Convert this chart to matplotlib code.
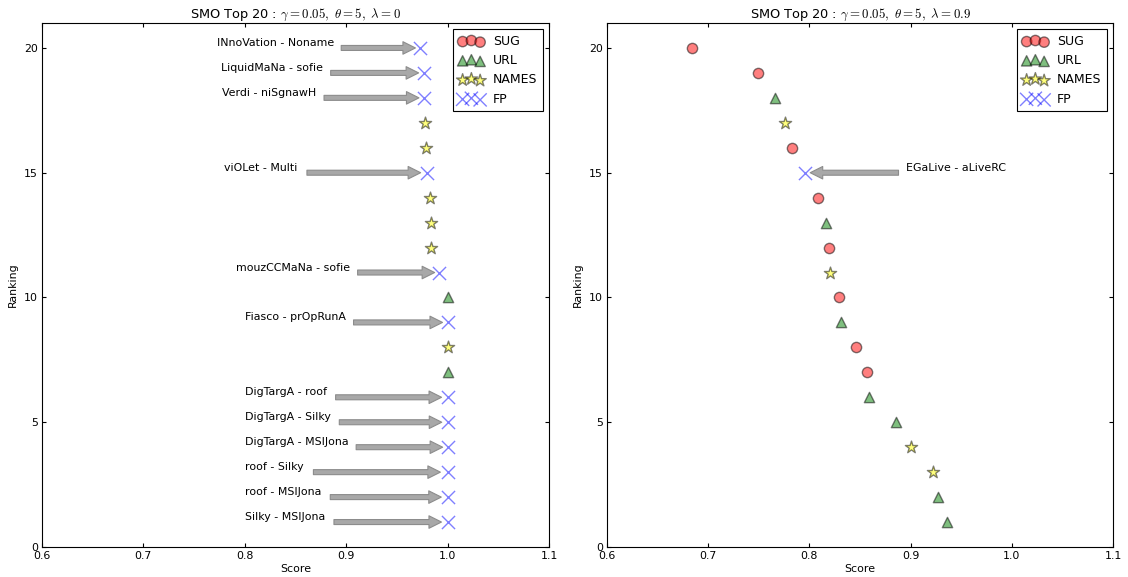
import matplotlib
matplotlib.use("Agg")
import matplotlib.pyplot as plt

plt.rcParams["mathtext.fontset"] = "cm"
plt.rcParams["font.family"] = "DejaVu Sans"

ranks = list(range(20, 0, -1))

# lambda = 0 run (ranks 20 .. 1)
left_scores = [0.9725, 0.9764, 0.9771, 0.9774, 0.9791, 0.9798, 0.9824, 0.9837, 0.9837, 0.9916,
               1.0, 1.0, 1.0, 1.0, 1.0, 1.0, 1.0, 1.0, 1.0, 1.0]
left_types = ["FP", "FP", "FP", "NAMES", "NAMES", "FP", "NAMES", "NAMES", "NAMES", "FP",
              "URL", "FP", "NAMES", "URL", "FP", "FP", "FP", "FP", "FP", "FP"]
left_fp_names = {20: "INnoVation - Noname", 19: "LiquidMaNa - sofie", 18: "Verdi - niSgnawH",
                 15: "viOLet - Multi", 11: "mouzCCMaNa - sofie", 9: "Fiasco - prOpRunA",
                 6: "DigTargA - roof", 5: "DigTargA - Silky", 4: "DigTargA - MSIJona",
                 3: "roof - Silky", 2: "roof - MSIJona", 1: "Silky - MSIJona"}

# lambda = 0.9 run
right_scores = [0.6839, 0.7497, 0.7661, 0.7757, 0.7826, 0.7958, 0.8083, 0.8160, 0.8190, 0.8200,
                0.8294, 0.8317, 0.8461, 0.8573, 0.8593, 0.8856, 0.9001, 0.9222, 0.9274, 0.9356]
right_types = ["SUG", "SUG", "URL", "NAMES", "SUG", "FP", "SUG", "URL", "SUG", "NAMES",
               "SUG", "URL", "SUG", "SUG", "URL", "URL", "NAMES", "NAMES", "URL", "URL"]
right_fp_names = {15: "EGaLive - aLiveRC"}

categories = ["SUG", "URL", "NAMES", "FP"]
style = {"SUG": dict(marker="o", c="red", s=55),
         "URL": dict(marker="^", c="green", s=55),
         "NAMES": dict(marker="*", c="yellow", s=85),
         "FP": dict(marker="x", c="blue", s=90)}


def panel(ax, scores, types, fp_names, lam, dx):
    for cat in categories:
        xs = [s for s, t in zip(scores, types) if t == cat]
        ys = [r for r, t in zip(ranks, types) if t == cat]
        kw = dict(style[cat])
        if cat != "FP":
            kw["edgecolors"] = "black"
        ax.scatter(xs, ys, alpha=0.5, linewidths=1, label=cat, zorder=3, **kw)

    # arrows point at the false positives, text sits just above the arrow tail
    for r, s in zip(ranks, scores):
        if r in fp_names:
            ax.annotate(fp_names[r], xy=(s, r), xytext=(s + dx, r), ha="left", va="bottom",
                        fontsize=7.9,
                        arrowprops=dict(fc="#a8a8a8", ec="#8c8c8c", lw=0.8, width=3.6,
                                        headwidth=9, headlength=9, shrink=0.05))

    ax.set_xlim(0.6, 1.1)
    ax.set_ylim(0, 21)
    ax.set_xticks([0.6, 0.7, 0.8, 0.9, 1.0, 1.1])
    ax.set_yticks([0, 5, 10, 15, 20])
    ax.tick_params(direction="in", top=True, right=True, labelsize=7.9, length=3, pad=3)
    ax.set_xlabel("Score", fontsize=7.9, labelpad=2)
    ax.set_ylabel("Ranking", fontsize=7.9, labelpad=4)
    ax.set_title(r"SMO Top 20 : $\gamma=0.05,\ \theta=5,\ \lambda=%s$" % lam, fontsize=9.3, pad=4)
    leg = ax.legend(loc="upper right", scatterpoints=3, fontsize=9, fancybox=False,
                    framealpha=1, edgecolor="black", borderaxespad=0.5, handletextpad=0.7,
                    labelspacing=0.5, borderpad=0.45)
    leg.get_frame().set_linewidth(0.8)


fig = plt.figure(figsize=(11.28, 5.77), dpi=100)
ax1 = fig.add_axes([42 / 1128, 30 / 577, 507 / 1128, 524 / 577])
ax2 = fig.add_axes([607 / 1128, 30 / 577, 506 / 1128, 524 / 577])

panel(ax1, left_scores, left_types, left_fp_names, "0", -0.2)
panel(ax2, right_scores, right_types, right_fp_names, "0.9", 0.1)

fig.savefig("out.png", dpi=100)
